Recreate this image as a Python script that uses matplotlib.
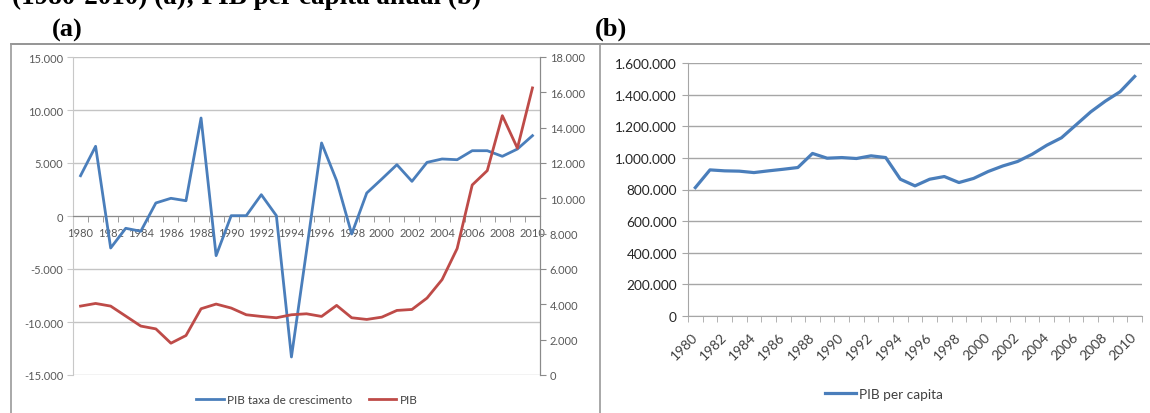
import matplotlib
matplotlib.use("Agg")
import matplotlib.pyplot as plt
from matplotlib.lines import Line2D
from matplotlib.ticker import FuncFormatter, FixedLocator

plt.rcParams['font.family'] = ['Lato', 'DejaVu Sans']

years = list(range(1980, 2011))
year_labels = [str(y) for y in years]

# Panel (a): growth rate (left axis) and PIB (right axis)
pib_growth = [3800, 6575, -3020, -1160, -1440, 1230, 1670, 1440, 9245, -3740,
              30, 30, 2010, 30, -13300, -3300, 6890, 3330, -1700, 2170,
              3490, 4840, 3270, 5060, 5380, 5310, 6160, 6160, 5630, 6320, 7580]
pib = [3900, 4050, 3900, 3335, 2770, 2610, 1800, 2235, 3750, 4015,
       3790, 3410, 3315, 3240, 3410, 3465, 3315, 3940, 3240, 3145,
       3275, 3655, 3710, 4355, 5400, 7160, 10755, 11570, 14680, 12840, 16250]

# Panel (b): PIB per capita
pib_pc = [812000, 924000, 918000, 916000, 907000, 918000, 928000, 939000, 1028000, 998000,
          1002000, 996000, 1013000, 1002000, 865000, 823000, 865000, 882000, 844000, 870000,
          914000, 949000, 977000, 1023000, 1080000, 1127000, 1209000, 1291000, 1359000, 1418000, 1515000]

title_text = "(1980-2010) (a); PIB per capita anual (b)"
label_a = "(a)"
label_b = "(b)"
legend_a = ["PIB taxa de crescimento", "PIB"]
legend_b = ["PIB per capita"]

BLUE = "#4A7EBB"
RED = "#BE4B48"
W, H = 1150, 414


def fmt(v, pos=None):
    return f"{int(round(v)):,}".replace(",", ".")


fig = plt.figure(figsize=(W / 100, H / 100), dpi=100)
fig.patch.set_facecolor("white")


def fx(px):
    return px / W


def fy(py):
    return 1 - py / H


# frame lines
fig.add_artist(Line2D([fx(11), fx(1150)], [fy(44.5), fy(44.5)], color="#8c8c8c", lw=1.3))
fig.add_artist(Line2D([fx(11), fx(11)], [fy(44.5), fy(414)], color="#9a9a9a", lw=1.2))
fig.add_artist(Line2D([fx(600), fx(600)], [fy(44.5), fy(414)], color="#9a9a9a", lw=1.2))

# cut-off title and panel labels
fig.text(fx(12), fy(4), title_text, family=["Liberation Serif"], fontweight="bold",
         fontsize=19.5, va="baseline", ha="left", color="black")
fig.text(fx(52), fy(37), label_a, family=["Liberation Serif"], fontweight="bold",
         fontsize=19, va="baseline", ha="left", color="black")
fig.text(fx(595), fy(36), label_b, family=["Liberation Serif"], fontweight="bold",
         fontsize=19, va="baseline", ha="left", color="black")

x = list(range(len(years)))

# ---------------- Panel (a) ----------------
axa = fig.add_axes([fx(73), fy(376), fx(540) - fx(73), fy(58) - fy(376)])
axa.set_xlim(-0.5, len(years) - 0.5)
axa.set_ylim(-15000, 15000)
axa.set_yticks(range(-15000, 15001, 5000))
axa.yaxis.set_major_formatter(FuncFormatter(fmt))
axa.grid(axis="y", color="#c4c4c4", lw=1.0)
axa.set_axisbelow(True)
axa.spines["top"].set_visible(False)
axa.spines["left"].set_color("#c8c8c8")
axa.spines["right"].set_color("#8a8a8a")
axa.spines["bottom"].set_position(("data", 0))
axa.spines["bottom"].set_color("#8a8a8a")
axa.xaxis.set_major_locator(FixedLocator(x[::2]))
axa.set_xticklabels(year_labels[::2])
axa.xaxis.set_minor_locator(FixedLocator([i - 0.5 for i in range(len(years) + 1)]))
axa.tick_params(axis="x", which="major", length=0, pad=8, labelsize=8, labelcolor="#595959")
axa.tick_params(axis="x", which="minor", length=4, color="#8a8a8a", direction="out")
axa.tick_params(axis="y", length=4, color="#c8c8c8", labelsize=8, labelcolor="#595959", pad=3)
la, = axa.plot(x, pib_growth, color=BLUE, lw=2.0, zorder=3)

axr = axa.twinx()
axr.set_ylim(0, 18000)
axr.set_yticks(range(0, 18001, 2000))
axr.yaxis.set_major_formatter(FuncFormatter(fmt))
for s in ["top", "left", "bottom"]:
    axr.spines[s].set_visible(False)
axr.spines["right"].set_color("#8a8a8a")
axr.tick_params(axis="y", length=4, color="#8a8a8a", labelsize=8, labelcolor="#595959", pad=3)
lr, = axr.plot(x, pib, color=RED, lw=2.0, zorder=3)

fig.legend([la, lr], legend_a, loc="center", bbox_to_anchor=(fx(307), fy(401)),
           ncol=2, frameon=False, fontsize=8.5, handlelength=2.3, handletextpad=0.3,
           columnspacing=1.4, labelcolor="#404040")

# ---------------- Panel (b) ----------------
axb = fig.add_axes([fx(688), fy(317), fx(1142) - fx(688), fy(64) - fy(317)])
axb.set_xlim(-0.5, len(years) - 0.5)
axb.set_ylim(0, 1600000)
axb.set_yticks(range(0, 1600001, 200000))
axb.yaxis.set_major_formatter(FuncFormatter(fmt))
axb.grid(axis="y", color="#a6a6a6", lw=1.0)
axb.set_axisbelow(True)
for s in ["top", "right"]:
    axb.spines[s].set_visible(False)
axb.spines["left"].set_color("#a6a6a6")
axb.spines["bottom"].set_color("#a6a6a6")
axb.xaxis.set_major_locator(FixedLocator(x[::2]))
axb.set_xticklabels(year_labels[::2], rotation=45, ha="right", va="center",
                    rotation_mode="anchor")
axb.xaxis.set_minor_locator(FixedLocator([i - 0.5 for i in range(len(years) + 1)]))
axb.tick_params(axis="x", which="major", length=0, pad=13, labelsize=10, labelcolor="#404040")
axb.tick_params(axis="x", which="minor", length=4, color="#a6a6a6", direction="out")
axb.tick_params(axis="y", length=4, color="#a6a6a6", labelsize=9.8, labelcolor="#262626", pad=4)
lb, = axb.plot(x, pib_pc, color=BLUE, lw=2.3, zorder=3)

fig.legend([lb], legend_b, loc="center", bbox_to_anchor=(fx(884), fy(395)),
           frameon=False, fontsize=9.8, handlelength=2.3, handletextpad=0.2,
           labelcolor="#404040")

fig.savefig("out.png", dpi=100, facecolor="white")
